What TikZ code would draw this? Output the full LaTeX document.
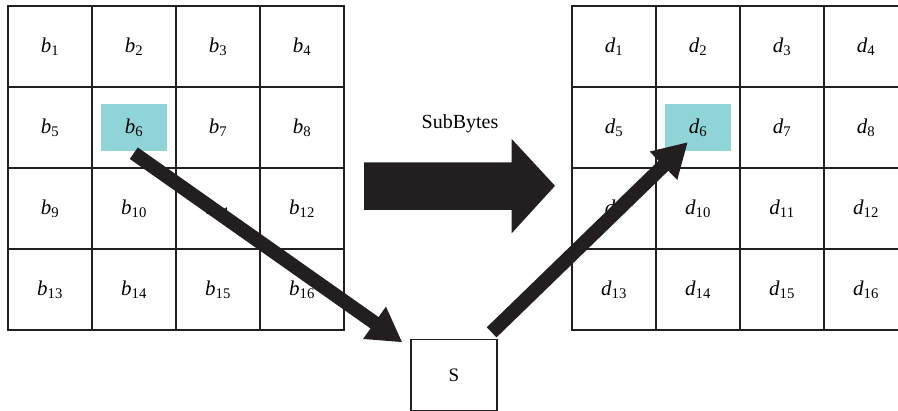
\documentclass[tikz,border=0pt]{standalone}
\usepackage{fontspec}
\setmainfont{Liberation Serif}
\usetikzlibrary{arrows.meta}
\definecolor{ink}{RGB}{35,31,32}
\definecolor{hl}{RGB}{143,212,215}
\begin{document}
\begin{tikzpicture}[x=1pt,y=-1pt,
  cell/.style={draw=ink, line width=1.8pt, minimum width=84pt, minimum height=81pt, inner sep=0pt, font=\fontsize{21}{23}\selectfont},
  hlbox/.style={fill=hl, minimum width=65.7pt, minimum height=46.8pt, inner sep=0pt},
  sbox/.style={draw=ink, line width=1.3pt, minimum width=86pt, minimum height=71.5pt, inner sep=0pt, font=\fontsize{19}{21}\selectfont},
  flow/.style={draw=ink, line width=14pt, -{Triangle[length=34pt,width=37pt]}},
  bigarrow/.style={fill=ink},
  lbl/.style={font=\fontsize{20}{22}\selectfont, inner sep=0pt}
]
\useasboundingbox (0,0) rectangle (898,411);
\clip (0,0) rectangle (898,411);
% highlights
\node[hlbox] (hb6) at (133.8,127.4) {};
\node[hlbox] (hd6) at (698.2,127.5) {};
% left grid
\foreach \r in {0,...,3}{
  \foreach \c in {0,...,3}{
    \pgfmathtruncatemacro\n{4*\r+\c+1}
    \node[cell] (b\n) at ({8+84*(\c+0.5)},{6+81*(\r+0.5)}) {\textit{b}\textsubscript{\n}};
  }
}
% right grid
\foreach \r in {0,...,3}{
  \foreach \c in {0,...,3}{
    \pgfmathtruncatemacro\n{4*\r+\c+1}
    \node[cell] (d\n) at ({572+84*(\c+0.5)},{6+81*(\r+0.5)}) {\textit{d}\textsubscript{\n}};
  }
}
% S box
\node[sbox] (S) at (454,375.25) {S};
% big arrow
\path[bigarrow] (364,162.3) -- (511.7,162.3) -- (511.7,139) -- (555,185.8) -- (511.7,233.3) -- (511.7,210) -- (364,210) -- cycle;
\node[lbl] (sub) at (460,124) {SubBytes};
% flow arrows
\draw[flow] ([yshift=-2.2pt]hb6.south) -- ([shift={(-8,3.5)}]S.north west);
\draw[flow] ([shift={(-6,-6.5)}]S.north east) -- ([shift={(22.7,-9)}]hd6.south west);
\end{tikzpicture}
\end{document}
